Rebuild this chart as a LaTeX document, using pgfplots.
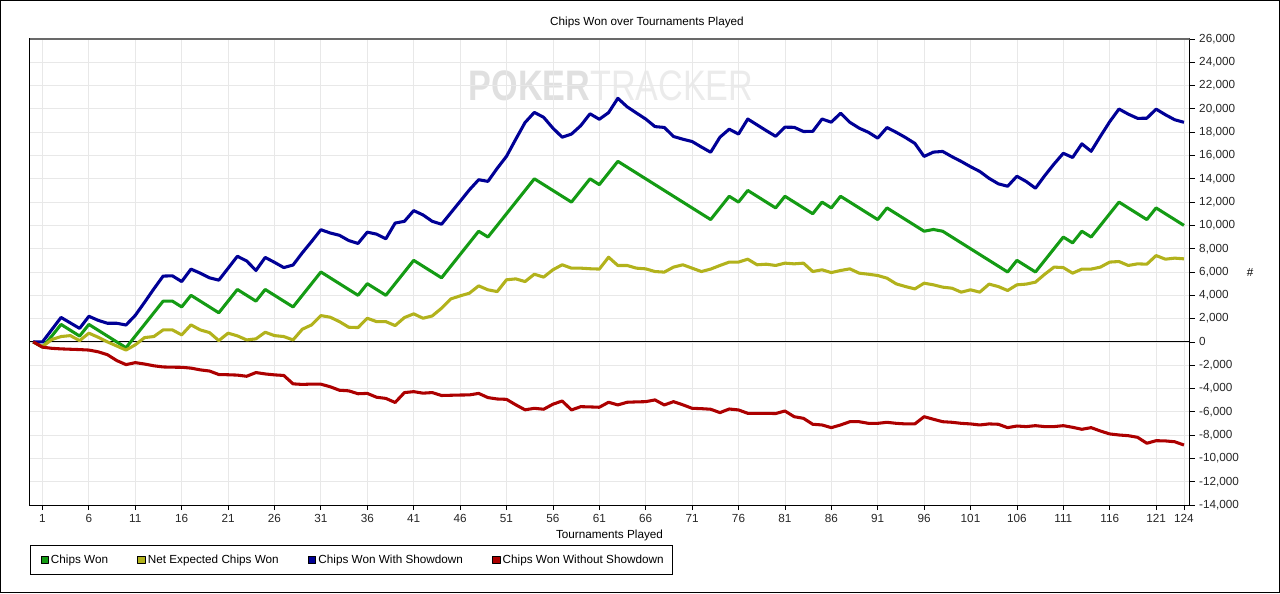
\documentclass[border=0pt]{standalone}
\usepackage{pgfplots}
\pgfplotsset{compat=1.18}
\usepackage{pgfplotstable}
\usepackage{fontspec}
\setmainfont{Liberation Sans}
\definecolor{cgreen}{RGB}{20,155,20}
\definecolor{cyellow}{RGB}{178,178,28}
\definecolor{cblue}{RGB}{0,0,150}
\definecolor{cred}{RGB}{172,0,0}
\definecolor{gridc}{RGB}{232,232,232}
\definecolor{topc}{RGB}{105,105,105}

\pgfplotstableread{
n green yellow blue red
0 0 0 0 0
1 -450 -400 0 -450
2 500 200 1050 -550
3 1500 460 2100 -600
4 1000 540 1630 -630
5 500 110 1160 -660
6 1500 750 2200 -700
7 1000 400 1850 -850
8 500 0 1600 -1100
9 0 -350 1600 -1600
10 -500 -700 1450 -1950
11 500 -250 2280 -1780
12 1500 370 3400 -1900
13 2500 460 4550 -2050
14 3500 1030 5650 -2150
15 3500 1030 5670 -2170
16 3000 600 5180 -2180
17 4000 1460 6250 -2250
18 3500 1030 5900 -2400
19 3000 800 5500 -2500
20 2500 110 5300 -2800
21 3500 750 6320 -2820
22 4500 520 7350 -2850
23 4000 170 6950 -2950
24 3500 260 6130 -2630
25 4500 830 7250 -2750
26 4000 540 6830 -2830
27 3500 460 6380 -2880
28 3000 170 6600 -3600
29 4000 1090 7650 -3650
30 5000 1460 8620 -3620
31 6000 2260 9630 -3630
32 5500 2120 9350 -3850
33 5000 1740 9150 -4150
34 4500 1260 8700 -4200
35 4000 1230 8450 -4450
36 5000 2030 9420 -4420
37 4500 1740 9250 -4750
38 4000 1740 8850 -4850
39 5000 1400 10200 -5200
40 6000 2090 10350 -4350
41 7000 2410 11270 -4270
42 6500 2030 10900 -4400
43 6000 2230 10350 -4350
44 5500 2890 10100 -4600
45 6500 3690 11080 -4580
46 7500 3950 12060 -4560
47 8500 4180 13050 -4550
48 9500 4810 13920 -4420
49 9000 4470 13780 -4780
50 10000 4320 14900 -4900
51 11000 5330 15930 -4930
52 12000 5410 17400 -5400
53 13000 5180 18830 -5830
54 14000 5810 19700 -5700
55 13500 5560 19280 -5780
56 13000 6190 18350 -5350
57 12500 6620 17570 -5070
58 12000 6330 17840 -5840
59 13000 6330 18560 -5560
60 14000 6280 19580 -5580
61 13500 6250 19110 -5610
62 14500 7270 19680 -5180
63 15500 6560 20910 -5410
64 15000 6560 20180 -5180
65 14500 6330 19650 -5150
66 14000 6270 19130 -5130
67 13500 6040 18480 -4980
68 13000 5990 18410 -5410
69 12500 6420 17630 -5130
70 12000 6620 17400 -5400
71 11500 6330 17200 -5700
72 11000 6040 16730 -5730
73 10500 6250 16280 -5780
74 11500 6560 17570 -6070
75 12500 6850 18260 -5760
76 12000 6850 17840 -5840
77 13000 7100 19130 -6130
78 12500 6620 18630 -6130
79 12000 6670 18130 -6130
80 11500 6560 17650 -6150
81 12500 6760 18430 -5930
82 12000 6700 18420 -6420
83 11500 6760 18060 -6560
84 11000 6040 18070 -7070
85 12000 6190 19130 -7130
86 11500 5950 18860 -7360
87 12500 6130 19630 -7130
88 12000 6270 18850 -6850
89 11500 5900 18350 -6850
90 11000 5810 17990 -6990
91 10500 5700 17490 -6990
92 11500 5470 18400 -6900
93 11000 4980 17990 -6990
94 10500 4750 17540 -7040
95 10000 4550 17040 -7040
96 9500 5040 15920 -6420
97 9650 4900 16290 -6640
98 9500 4700 16350 -6850
99 9000 4610 15900 -6900
100 8500 4270 15490 -6990
101 8000 4470 15040 -7040
102 7500 4270 14630 -7130
103 7000 4960 14040 -7040
104 6500 4750 13570 -7070
105 6000 4410 13360 -7360
106 7000 4900 14220 -7220
107 6500 4960 13770 -7270
108 6000 5130 13190 -7190
109 7000 5810 14270 -7270
110 8000 6420 15270 -7270
111 9000 6380 16190 -7190
112 8500 5900 15830 -7330
113 9500 6250 17000 -7500
114 9000 6250 16360 -7360
115 10000 6420 17650 -7650
116 11000 6850 18900 -7900
117 12000 6900 19990 -7990
118 11500 6560 19550 -8050
119 11000 6700 19190 -8190
120 10500 6670 19200 -8700
121 11500 7410 19980 -8480
122 11000 7100 19500 -8500
123 10500 7190 19070 -8570
124 10000 7130 18850 -8850
}\data

\begin{document}
\begin{tikzpicture}
\useasboundingbox (0pt,0pt) rectangle (960pt,444.75pt);
\draw[black, line width=1.2pt] (0.45pt,0.45pt) rectangle (959.55pt,444.3pt);
\node[anchor=center, xscale=0.8, inner sep=0pt] at (458.25pt,380.25pt)
  {\fontsize{32}{32}\selectfont\textcolor{black!12}{\bfseries POKER}\textcolor{black!8}{TRACKER}};
\begin{axis}[
  at={(22.125pt,66pt)}, anchor=south west,
  scale only axis, width=870pt, height=349.5pt,
  xmin=-0.4, xmax=124.6, ymin=-14000, ymax=26000,
  xtick={1,6,...,121,124},
  ytick={-14000,-12000,...,26000},
  scaled y ticks=false,
  xtick pos=bottom, ytick pos=right,
  yticklabel pos=right,
  tick align=outside,
  major tick length=3.75pt,
  tick style={black, line width=0.6pt},
  grid=major,
  major grid style={gridc, line width=0.6pt},
  axis line style={black, line width=0.75pt},
  font=\fontsize{8.8}{10.5}\selectfont,
  ticklabel style={font=\fontsize{8.8}{10.5}\selectfont, text=black!85},
  /pgf/number format/.cd, 1000 sep={,}, assume math mode=true, /pgfplots/.cd,
  title={Chips Won over Tournaments Played},
  title style={at={(axis description cs:0.5323,1)}, anchor=center, yshift=6.25pt},
  xlabel={Tournaments Played},
  xlabel style={at={(axis description cs:0.5,0)}, anchor=center, yshift=-22.5pt},
  ylabel={\#},
  ylabel style={at={(axis description cs:1.0522,0.5)}, anchor=center, rotate=-90},
  legend columns=4,
  legend cell align=left,
  legend style={at={(axis description cs:0,0)}, anchor=north west, yshift=-30pt,
    draw=black, line width=0.75pt, inner xsep=4.5pt, inner ysep=5pt,
    font=\fontsize{8.8}{10.5}\selectfont,
    /tikz/every even column/.append style={column sep=16.6pt}},
  legend image code/.code={\path[draw=none,fill=none] (0pt,0pt) -- (9pt,0pt);\filldraw[#1, draw=black, line width=0.4pt] (3.6pt,-2.6pt) rectangle (9pt,2.8pt);},
]
\addplot[black, line width=0.75pt, forget plot] coordinates {(-0.4,0) (124.6,0)};
\addplot[cgreen, line width=2.3pt, line join=round] table[x=n,y=green]{\data};
\addlegendentry{Chips Won}
\addplot[cyellow, line width=2.3pt, line join=round] table[x=n,y=yellow]{\data};
\addlegendentry{Net Expected Chips Won}
\addplot[cblue, line width=2.3pt, line join=round] table[x=n,y=blue]{\data};
\addlegendentry{Chips Won With Showdown}
\addplot[cred, line width=2.3pt, line join=round] table[x=n,y=red]{\data};
\addlegendentry{Chips Won Without Showdown}
\draw[topc, line width=1.6pt] (rel axis cs:0,1) -- (rel axis cs:1,1);
\end{axis}
\end{tikzpicture}
\end{document}
